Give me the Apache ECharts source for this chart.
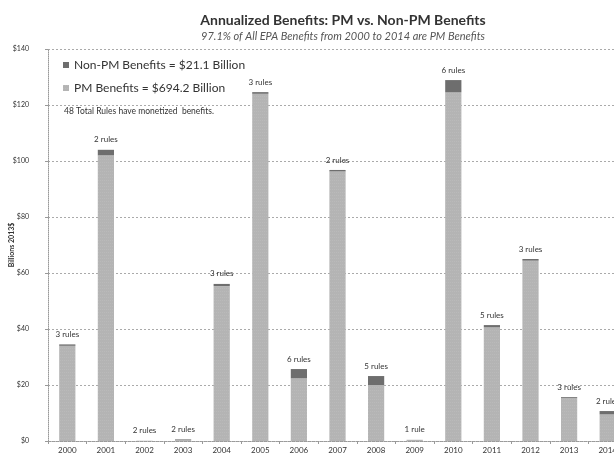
<!DOCTYPE html>
<html>
<head>
<meta charset="utf-8">
<script src="https://cdn.jsdelivr.net/npm/echarts@6/dist/echarts.min.js"></script>
<style>
  html, body { margin: 0; padding: 0; background: #fff; }
  #chart { width: 614px; height: 456px; }
</style>
</head>
<body>
<div id="chart"></div>
<script>
// Fiscal years covered
const years = ['2000','2001','2002','2003','2004','2005','2006','2007','2008','2009','2010','2011','2012','2013','2014'];
// Annualized PM benefits per year (billions, 2013$)
const pmBenefits = [34.0, 102.0, 0.1, 0.4, 55.3, 124.0, 22.4, 96.3, 20.0, 0.3, 124.6, 40.6, 64.4, 15.4, 9.5];
// Annualized non-PM benefits per year (billions, 2013$)
const nonPmBenefits = [0.5, 2.0, 0.0, 0.2, 0.8, 0.6, 3.3, 0.5, 3.2, 0.1, 4.3, 0.8, 0.6, 0.3, 1.2];
// Number of rules with monetized benefits per year
const ruleCounts = [3, 2, 2, 2, 3, 3, 6, 2, 5, 1, 6, 5, 3, 3, 2];
// Totals shown in the legend
const nonPmTotal = 21.1;
const pmTotal = 694.2;
const totalRules = 48;
// Value axis ticks
const yMin = 0, yMax = 140, yStep = 20;

const FONT = 'Lato, "Open Sans", sans-serif';

const chart = echarts.init(document.getElementById('chart'), null, { renderer: 'canvas' });

chart.setOption({
  animation: false,
  backgroundColor: '#ffffff',
  title: [
    {
      text: 'Annualized Benefits: PM vs. Non-PM Benefits',
      left: 338, top: 8, textAlign: 'center',
      textStyle: { fontFamily: FONT, fontSize: 14, fontWeight: 'bold', color: '#333' }
    },
    {
      text: '97.1% of All EPA Benefits from 2000 to 2014 are PM Benefits',
      left: 338, top: 26, textAlign: 'center',
      textStyle: { fontFamily: FONT, fontSize: 11, fontStyle: 'italic', fontWeight: 'normal', color: '#555' }
    }
  ],
  legend: {
    orient: 'vertical',
    left: 58, top: 54,
    itemGap: 11,
    itemWidth: 6, itemHeight: 6,
    icon: 'rect',
    data: ['Non-PM Benefits', 'PM Benefits'],
    formatter: function (name) {
      return name === 'PM Benefits'
        ? name + ' = $' + pmTotal.toFixed(1) + ' Billion'
        : name + ' = $' + nonPmTotal.toFixed(1) + ' Billion';
    },
    textStyle: { fontFamily: FONT, fontSize: 12, color: '#333' }
  },
  graphic: [
    {
      type: 'text', left: 64, top: 107,
      style: { text: totalRules + ' Total Rules have monetized  benefits.', font: '8.5px ' + FONT, fill: '#333' }
    }
  ],
  grid: { left: 48, right: -13, top: 49, bottom: 15, containLabel: false, outerBoundsMode: 'none' },
  xAxis: {
    type: 'category',
    data: years,
    axisLine: { show: true, lineStyle: { color: '#999', type: 'dotted' } },
    axisTick: { show: true, length: 3, lineStyle: { color: '#999' } },
    axisLabel: { fontFamily: FONT, fontSize: 8, color: '#333', margin: 5 }
  },
  yAxis: {
    type: 'value',
    min: yMin, max: yMax, interval: yStep,
    name: 'Billions 2013$',
    nameLocation: 'middle',
    nameGap: 33,
    nameRotate: 90,
    nameMoveOverlap: false,
    nameTextStyle: { fontFamily: FONT, fontSize: 7, fontWeight: 'bold', color: '#333' },
    axisLine: { show: true, lineStyle: { color: '#999', type: 'dotted' } },
    axisTick: { show: true, length: 3, lineStyle: { color: '#999' } },
    axisLabel: { fontFamily: FONT, fontSize: 7, color: '#333', margin: 19, formatter: v => '$' + v },
    splitLine: { show: true, lineStyle: { color: '#aaa', type: [2, 2], width: 1 } }
  },
  series: [
    {
      name: 'PM Benefits',
      type: 'bar',
      stack: 'benefits',
      barWidth: '42%',
      itemStyle: {
        color: '#b4b4b4',
        decal: { symbol: 'rect', symbolSize: 0.5, dashArrayX: [1, 1], dashArrayY: [1, 2], color: 'rgba(255,255,255,0.35)', rotation: 0 }
      },
      data: pmBenefits
    },
    {
      name: 'Non-PM Benefits',
      type: 'bar',
      stack: 'benefits',
      barWidth: '42%',
      itemStyle: { color: '#6e6e6e' },
      label: {
        show: true,
        position: 'top',
        distance: 6,
        fontFamily: FONT, fontSize: 8, color: '#333',
        formatter: p => ruleCounts[p.dataIndex] + (ruleCounts[p.dataIndex] === 1 ? ' rule' : ' rules')
      },
      data: nonPmBenefits
    }
  ]
});
</script>
</body>
</html>
